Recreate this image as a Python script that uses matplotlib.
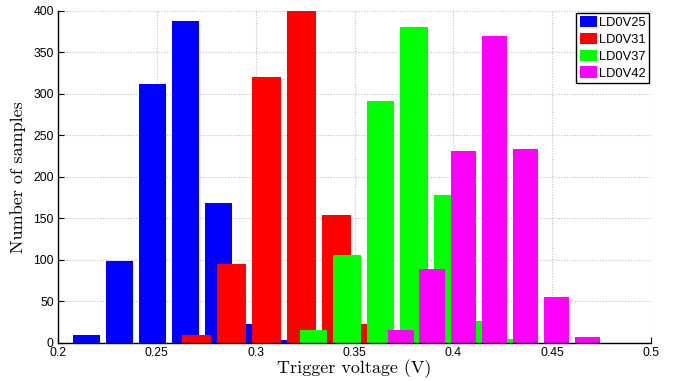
import matplotlib
matplotlib.use("Agg")
import matplotlib.pyplot as plt
import numpy as np

# Histogram bin centres (V) and sample counts per device
labels = ["LD0V25", "LD0V31", "LD0V37", "LD0V42"]
colors = ["#0000ff", "#ff0000", "#00ff00", "#ff00ff"]

centers_v25 = [0.2143, 0.2311, 0.2478, 0.2646, 0.2813, 0.2981, 0.3148]
counts_v25 = [9, 98, 312, 388, 168, 22, 3]

centers_v31 = [0.2701, 0.2878, 0.3055, 0.3233, 0.3410, 0.3588]
counts_v31 = [9, 95, 320, 400, 154, 22]

centers_v37 = [0.3292, 0.3461, 0.3631, 0.3800, 0.3970, 0.4140, 0.4309]
counts_v37 = [15, 106, 291, 380, 178, 26, 4]

centers_v42 = [0.3736, 0.3893, 0.4051, 0.4208, 0.4365, 0.4523, 0.4680]
counts_v42 = [15, 89, 231, 370, 233, 55, 7]

x_ticks = [0.2, 0.25, 0.3, 0.35, 0.4, 0.45, 0.5]
x_tick_labels = ["0.2", "0.25", "0.3", "0.35", "0.4", "0.45", "0.5"]
y_ticks = [0, 50, 100, 150, 200, 250, 300, 350, 400]

series = [
    (centers_v25, counts_v25),
    (centers_v31, counts_v31),
    (centers_v37, counts_v37),
    (centers_v42, counts_v42),
]

tick_font = "Liberation Sans"
label_font = "cmr10"

fig = plt.figure(figsize=(6.84, 3.81), dpi=100)
ax = fig.add_axes([58 / 684, 1 - 342.7 / 381, (651 - 58) / 684, (342.7 - 10.7) / 381])

for (centers, counts), color, label in zip(series, colors, labels):
    c = np.asarray(centers)
    bin_w = np.mean(np.diff(c))
    ax.bar(c, counts, width=0.82 * bin_w, color=color, edgecolor="none",
           label=label, zorder=2)

ax.set_xlim(0.2, 0.5)
ax.set_ylim(0, 400)
ax.set_xticks(x_ticks)
ax.set_xticklabels(x_tick_labels)
ax.set_yticks(y_ticks)

for lab in ax.get_xticklabels() + ax.get_yticklabels():
    lab.set_fontfamily(tick_font)
    lab.set_fontsize(8.8)

ax.tick_params(direction="in", length=4, width=0.8, colors="black", pad=3)
ax.spines["top"].set_visible(False)
ax.spines["right"].set_visible(False)
for s in ("left", "bottom"):
    ax.spines[s].set_linewidth(1.0)

ax.set_axisbelow(True)
ax.grid(True, color="#bdbdbd", linestyle=(0, (1, 1.5)), linewidth=0.8)

ax.set_xlabel("Trigger voltage (V)", fontfamily=label_font, fontsize=13, labelpad=0)
ax.set_ylabel("Number of samples", fontfamily=label_font, fontsize=13, labelpad=5)

leg = ax.legend(loc="upper right", bbox_to_anchor=(1.0, 1.0), borderaxespad=0.15,
                prop={"family": tick_font, "size": 9.3}, fancybox=False,
                handlelength=1.35, handleheight=1.0, handletextpad=0.15,
                borderpad=0.25, labelspacing=0.28, framealpha=1)
leg.get_frame().set_edgecolor("black")
leg.get_frame().set_linewidth(1.0)

fig.savefig("out.png", dpi=100)
